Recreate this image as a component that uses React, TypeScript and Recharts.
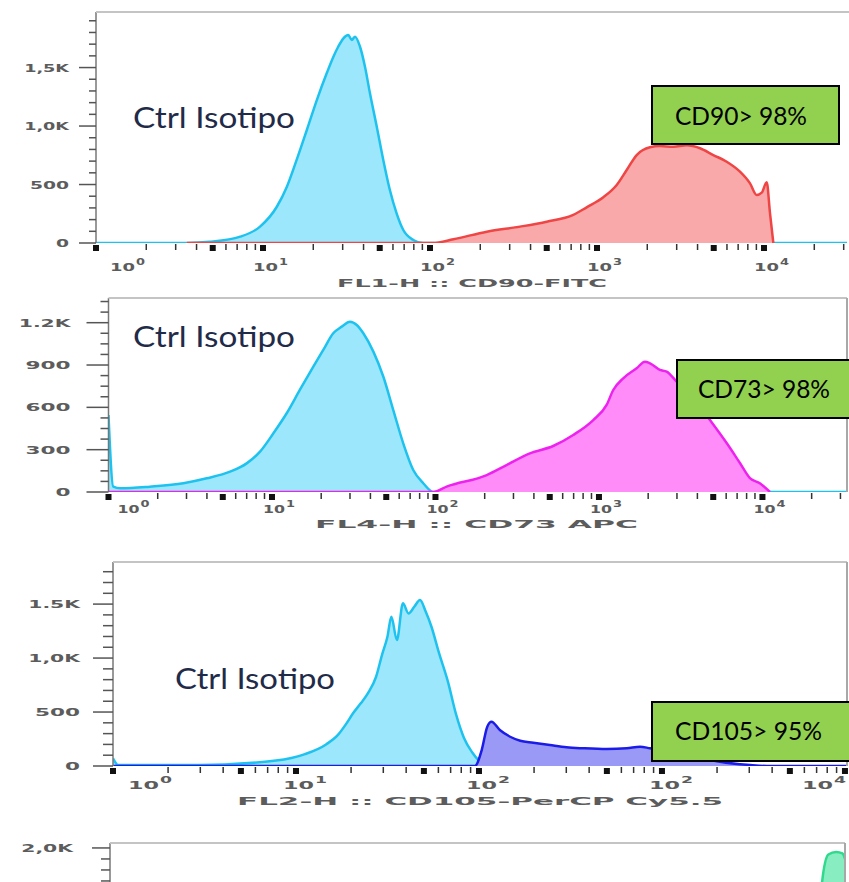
import React from 'react';
import { ComposedChart, Area, XAxis, YAxis } from 'recharts';

// ---- values (fluorescence, events) ----
// FL1 / CD90
const iso1X = [1, 3.5, 4.8, 7.3, 9.6, 12.1, 13.9, 15.9, 18.3, 21.0, 24.1, 26.4, 28.2, 30.3, 32.4, 34.0, 35.6, 38.1, 40.8, 43.7, 48.0, 52.5, 57.5, 63.1, 69.2, 79.4, 90.8, 31400];
const iso1Y = [0, 0, 10, 54, 140, 310, 481, 710, 966, 1222, 1453, 1593, 1678, 1750, 1778, 1736, 1764, 1678, 1507, 1280, 994, 710, 453, 254, 111, 26, 0, 0];
const cd90X = [3.5, 104, 138, 219, 346, 500, 721, 867, 1091, 1312, 1506, 1728, 2076, 2384, 2864, 3443, 4139, 4970, 5980, 7180, 8245, 9040, 9690, 10380, 10860, 11370];
const cd90Y = [0, 0, 32, 97, 140, 182, 240, 305, 391, 496, 624, 752, 818, 829, 823, 835, 810, 752, 695, 610, 510, 410, 430, 520, 256, 0];

// FL4 / CD73
const iso2X = [1, 1.07, 1.18, 1.79, 2.87, 3.99, 5.54, 7.0, 8.45, 10.2, 12.3, 14.8, 17.9, 20.6, 23.7, 26.7, 30.0, 33.0, 36.2, 41.7, 48.0, 55.2, 63.5, 73.1, 84.2, 97, 32900];
const iso2Y = [546, 38, 26, 38, 62, 97, 144, 203, 286, 416, 558, 723, 888, 1007, 1125, 1172, 1207, 1184, 1125, 995, 817, 581, 345, 156, 62, 0, 0];
const cd73X = [1, 97, 117, 206, 272, 378, 525, 696, 923, 1114, 1223, 1408, 1701, 1910, 2051, 2360, 2594, 2987, 3776, 4775, 6040, 7280, 8380, 9640, 11110];
const cd73Y = [0, 0, 38, 120, 191, 274, 326, 404, 510, 617, 723, 806, 877, 924, 912, 865, 853, 782, 666, 510, 347, 206, 99, 62, 0];

// FL2 / CD105
const iso3X = [1, 1.065, 2.99, 7.78, 11.2, 14.6, 17.0, 18.8, 20.5, 22.6, 24.7, 27.4, 29.5, 31.6, 33.2, 35.6, 38.4, 41.2, 44.3, 47.6, 51.2, 55.0, 60.4, 67.7, 74.9, 82.8, 91.5, 100, 110.6];
const iso3Y = [70, 10, 9, 50, 110, 200, 290, 390, 488, 581, 673, 827, 1028, 1197, 1383, 1167, 1507, 1414, 1475, 1537, 1429, 1290, 1050, 780, 480, 260, 130, 50, 0];
const cd105X = [1, 95, 103.5, 111, 117, 130, 148, 168, 198, 244, 301, 372, 499, 642, 759, 860, 1253, 1614, 2073, 3027, 3750, 10250];
const cd105Y = [0, 0, 148, 364, 410, 333, 271, 234, 216, 194, 173, 164, 157, 164, 179, 164, 120, 75, 40, 9, 0, 0];

// fourth panel, only its top edge is in frame
const green4X = [6800, 7780, 8420, 9290, 10050, 10380];
const green4Y = [0, 1690, 1940, 1964, 1950, 1900];

// tick labels
const yMajor1 = [0, 500, 1000, 1500];
const yLabel1 = ['0', '500', '1,0K', '1,5K'];
const yMajor2 = [0, 300, 600, 900, 1200];
const yLabel2 = ['0', '300', '600', '900', '1.2K'];
const yMajor3 = [0, 500, 1000, 1500];
const yLabel3 = ['0', '500', '1,0K', '1.5K'];
const yMajor4 = [2000];
const yLabel4 = ['2,0K'];
const xExp1 = ['0', '1', '2', '3', '4'];
const xExp2 = ['0', '1', '2', '3', '4'];
const xExp3 = ['0', '1', '2', '2', '4'];

const CYAN = { stroke: '#1ec2ef', fill: '#9ce7fb' };

type Series = { key: string; xs: number[]; ys: number[]; stroke: string; fill: string };

function merge(series: Series[]) {
  const map = new Map<number, any>();
  series.forEach((s) => {
    s.xs.forEach((x, i) => {
      const row = map.get(x) || { x };
      row[s.key] = s.ys[i];
      map.set(x, row);
    });
  });
  return Array.from(map.values()).sort((a, b) => a.x - b.x);
}

function logTicks(max: number) {
  const out: number[] = [];
  for (let d = 0; d < 6; d++) {
    for (let m = 1; m < 10; m++) {
      const v = m * Math.pow(10, d);
      if (v <= max * 1.0001) out.push(v);
    }
  }
  return out;
}

type Cfg = {
  top: number; height: number;
  plotLeft: number; plotTop: number; plotBottom: number; plotRight: number;
  xMax: number; yMax: number;
  yMajors: number[]; yLabels: string[]; yMinorStep: number;
  yMajorLen: number; yMinorLen: number; yGap: number; yCharW: number;
  xExps: string[] | null; xDy: number; xBaseW: number; xSupW: number; xFirstOff: number; xBackOff: number;
  series: Series[];
};

const panels: Cfg[] = [
  {
    top: 0, height: 300, plotLeft: 96, plotTop: 12, plotBottom: 243, plotRight: 847,
    xMax: 31400, yMax: 1975,
    yMajors: yMajor1, yLabels: yLabel1, yMinorStep: 100,
    yMajorLen: 17, yMinorLen: 7, yGap: 27, yCharW: 13,
    xExps: xExp1, xDy: 28, xBaseW: 25, xSupW: 9, xFirstOff: 14, xBackOff: 10,
    series: [
      { key: 'iso', xs: iso1X, ys: iso1Y, ...CYAN },
      { key: 'pos', xs: cd90X, ys: cd90Y, stroke: '#ef4545', fill: '#f9a9a9' },
    ],
  },
  {
    top: 292, height: 244, plotLeft: 108.5, plotTop: 298, plotBottom: 492, plotRight: 847,
    xMax: 32900, yMax: 1375,
    yMajors: yMajor2, yLabels: yLabel2, yMinorStep: 75,
    yMajorLen: 22, yMinorLen: 8, yGap: 38, yCharW: 15,
    xExps: xExp2, xDy: 21, xBaseW: 22, xSupW: 9, xFirstOff: 9, xBackOff: 9,
    series: [
      { key: 'iso', xs: iso2X, ys: iso2Y, ...CYAN },
      { key: 'pos', xs: cd73X, ys: cd73Y, stroke: '#ee22ee', fill: '#ff8cf8' },
    ],
  },
  {
    top: 550, height: 262, plotLeft: 113, plotTop: 562, plotBottom: 766, plotRight: 847,
    xMax: 10260, yMax: 1890,
    yMajors: yMajor3, yLabels: yLabel3, yMinorStep: 100,
    yMajorLen: 20, yMinorLen: 10, yGap: 33, yCharW: 15,
    xExps: xExp3, xDy: 23, xBaseW: 31, xSupW: 12, xFirstOff: 15, xBackOff: 13,
    series: [
      { key: 'iso', xs: iso3X, ys: iso3Y, ...CYAN },
      { key: 'pos', xs: cd105X, ys: cd105Y, stroke: '#1c1ce8', fill: '#9a9af6' },
    ],
  },
  {
    top: 830, height: 250, plotLeft: 110, plotTop: 843, plotBottom: 1068, plotRight: 845,
    xMax: 10380, yMax: 2045,
    yMajors: yMajor4, yLabels: yLabel4, yMinorStep: 100,
    yMajorLen: 18, yMinorLen: 9, yGap: 37, yCharW: 15,
    xExps: null, xDy: 23, xBaseW: 31, xSupW: 12, xFirstOff: 15, xBackOff: 13,
    series: [
      { key: 'pos', xs: green4X, ys: green4Y, stroke: '#2fd98e', fill: '#88edc0' },
    ],
  },
];

const tickFont = { fontFamily: 'DejaVu Sans', fontSize: 11, fontWeight: 700, fill: '#5c5c5c' };

const textW = (s: string, w: number) =>
  s.split('').reduce((acc, c) => acc + (c === ',' || c === '.' ? w * 0.45 : w), 0);

function yTick(cfg: Cfg) {
  return (props: any) => {
    const { x, y, payload } = props;
    const idx = cfg.yMajors.indexOf(payload.value);
    const major = idx >= 0;
    const len = major ? cfg.yMajorLen : cfg.yMinorLen;
    return (
      <g>
        <line x1={x - len} x2={x} y1={y} y2={y} stroke="#555" strokeWidth={1.5} />
        {major && (
          <text
            x={x - cfg.yGap - textW(cfg.yLabels[idx], cfg.yCharW)}
            y={y + 4}
            textLength={textW(cfg.yLabels[idx], cfg.yCharW)}
            lengthAdjust="spacingAndGlyphs"
            {...tickFont}
          >
            {cfg.yLabels[idx]}
          </text>
        )}
      </g>
    );
  };
}

function xTick(cfg: Cfg) {
  return (props: any) => {
    const { x, y, payload } = props;
    const v = payload.value as number;
    const e = Math.floor(Math.log10(v) + 1e-9);
    const m = Math.round(v / Math.pow(10, e));
    const mark =
      m === 1 || m === 5 ? (
        <rect x={x - 3} y={y + 2} width={6} height={6} fill="#111" />
      ) : (
        <line x1={x} x2={x} y1={y + 1} y2={y + 7} stroke="#333" strokeWidth={1.5} />
      );
    let label = null;
    if (m === 1 && cfg.xExps && cfg.xExps[e] !== undefined) {
      const w = cfg.xBaseW + cfg.xSupW + 1;
      let sx = e === 0 ? cfg.plotLeft + cfg.xFirstOff : x - cfg.xBackOff;
      if (sx + w > cfg.plotRight - 1) sx = cfg.plotRight - 1 - w;
      label = (
        <g>
          <text x={sx} y={y + cfg.xDy} textLength={cfg.xBaseW} lengthAdjust="spacingAndGlyphs" {...tickFont}>
            10
          </text>
          <text
            x={sx + cfg.xBaseW + 1}
            y={y + cfg.xDy - 6}
            textLength={cfg.xSupW}
            lengthAdjust="spacingAndGlyphs"
            {...tickFont}
            fontSize={8}
          >
            {cfg.xExps[e]}
          </text>
        </g>
      );
    }
    return (
      <g>
        {mark}
        {label}
      </g>
    );
  };
}

const Panel: React.FC<{ cfg: Cfg }> = ({ cfg }) => {
  const data = merge(cfg.series);
  const yTicks: number[] = [];
  for (let v = 0; v <= cfg.yMax; v += cfg.yMinorStep) yTicks.push(v);
  const xTicks = logTicks(cfg.xMax);
  const xAxisH = cfg.height - (cfg.plotBottom - cfg.top);
  return (
    <div style={{ position: 'absolute', left: 0, top: cfg.top }}>
      <ComposedChart
        width={849}
        height={cfg.height}
        data={data}
        margin={{ top: cfg.plotTop - cfg.top, right: 849 - cfg.plotRight, bottom: 0, left: 0 }}
      >
        <XAxis
          dataKey="x"
          type="number"
          scale="log"
          domain={[1, cfg.xMax]}
          allowDataOverflow
          ticks={xTicks}
          interval={0}
          tick={xTick(cfg)}
          tickLine={false}
          tickSize={0}
          tickMargin={0}
          axisLine={false}
          height={xAxisH}
        />
        <YAxis
          type="number"
          domain={[0, cfg.yMax]}
          allowDataOverflow
          ticks={yTicks}
          interval={0}
          tick={yTick(cfg)}
          tickLine={false}
          tickSize={0}
          tickMargin={0}
          width={cfg.plotLeft}
          axisLine={{ stroke: '#777', strokeWidth: 1.5 }}
        />
        {cfg.series.map((s) => (
          <Area
            key={s.key}
            type="monotone"
            dataKey={s.key}
            stroke={s.stroke}
            strokeWidth={2.5}
            fill={s.fill}
            fillOpacity={1}
            connectNulls
            dot={false}
            activeDot={false}
            isAnimationActive={false}
          />
        ))}
      </ComposedChart>
    </div>
  );
};

const annotations = [
  { title: 'FL1-H :: CD90-FITC', tx1: 337, tx2: 607, ty: 287, cx: 133, cy: 128, cw: 162, box: [652, 86, 187, 58], bt: 'CD90> 98%', btx: 675, btw: 132, bty: 125 },
  { title: 'FL4-H :: CD73 APC', tx1: 315, tx2: 638, ty: 528, cx: 133, cy: 347, cw: 162, box: [677, 360, 173, 58], bt: 'CD73> 98%', btx: 698, btw: 132, bty: 398 },
  { title: 'FL2-H :: CD105-PerCP Cy5.5', tx1: 237, tx2: 723, ty: 805, cx: 175, cy: 689, cw: 160, box: [652, 702, 198, 59], bt: 'CD105> 95%', btx: 675, btw: 147, bty: 740 },
];

export default function App() {
  return (
    <div style={{ position: 'absolute', left: 0, top: 0, width: 849, height: 882, overflow: 'hidden', background: '#fff' }}>
      {panels.map((p, i) => (
        <Panel key={i} cfg={p} />
      ))}
      <svg width={849} height={882} style={{ position: 'absolute', left: 0, top: 0, pointerEvents: 'none' }}>
        {/* plot frames */}
        <line x1={96} x2={849} y1={12} y2={12} stroke="#c4c4c4" strokeWidth={2} />
        {panels.slice(1).map((p, i) => (
          <g key={i}>
            <line x1={p.plotLeft} x2={p.plotRight} y1={p.plotTop} y2={p.plotTop} stroke="#c4c4c4" strokeWidth={2} />
            <line x1={p.plotRight} x2={p.plotRight} y1={p.plotTop} y2={p.plotBottom} stroke="#a8a8a8" strokeWidth={2} />
          </g>
        ))}
        {annotations.map((a, i) => (
          <g key={i}>
            <text
              x={a.tx1}
              y={a.ty}
              textLength={a.tx2 - a.tx1}
              lengthAdjust="spacingAndGlyphs"
              {...tickFont}
            >
              {a.title}
            </text>
            <text
              x={a.cx}
              y={a.cy}
              textLength={a.cw}
              lengthAdjust="spacingAndGlyphs"
              fontFamily="Lato"
              fontSize={28}
              fill="#1f2b48"
            >
              Ctrl Isotipo
            </text>
            <rect x={a.box[0]} y={a.box[1]} width={a.box[2]} height={a.box[3]} fill="#92d050" stroke="#000" strokeWidth={2} />
            <text
              x={a.btx}
              y={a.bty}
              textLength={a.btw}
              lengthAdjust="spacingAndGlyphs"
              fontFamily="Lato"
              fontSize={25}
              fill="#000"
            >
              {a.bt}
            </text>
          </g>
        ))}
      </svg>
    </div>
  );
}
